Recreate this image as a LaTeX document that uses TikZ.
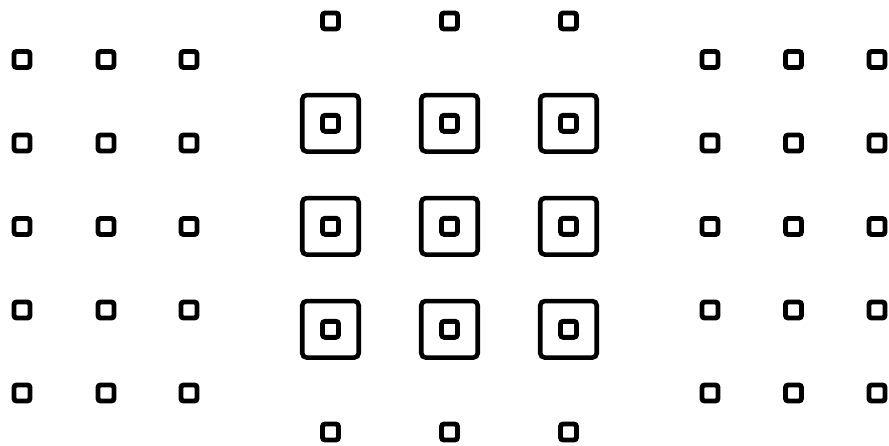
\documentclass[tikz,border=0pt]{standalone}
\usepackage{tikz}
\usetikzlibrary{positioning}

\begin{document}
\begin{tikzpicture}[
  x=0.02cm, y=-0.02cm,
  dot/.style={
    rectangle, rounded corners=1.5pt,
    draw=black, line width=2.8pt,
    minimum size=0.32cm, inner sep=0pt
  },
  frame/.style={
    rectangle, rounded corners=2.5pt,
    draw=black, line width=2.6pt,
    minimum size=1.13cm, inner sep=0pt
  }
]
  \useasboundingbox (0,0) rectangle (889,446);

  % Left and right grids
  \foreach \c/\x in {1/22, 2/106, 3/189} {
    \foreach \r/\y in {1/59.5, 2/143, 3/226.5, 4/310, 5/393} {
      \node[dot] (left-\c-\r) at (\x,\y) {};
    }
  }
  \foreach \c/\x in {1/710, 2/793.5, 3/877} {
    \foreach \r/\y in {1/59.5, 2/143, 3/226.5, 4/310, 5/393} {
      \node[dot] (right-\c-\r) at (\x,\y) {};
    }
  }

  % Centre block
  \foreach \c/\x in {1/330.5, 2/449.5, 3/568.5} {
    \node[dot] (top-\c) at (\x,21) {};
    \node[dot] (bottom-\c) at (\x,432) {};
    \foreach \r/\y in {1/123.3, 2/226.3, 3/329.3} {
      \node[frame] (frame-\c-\r) at (\x,\y) {};
      \node[dot] (inner-\c-\r) at (frame-\c-\r.center) {};
    }
  }
\end{tikzpicture}
\end{document}
